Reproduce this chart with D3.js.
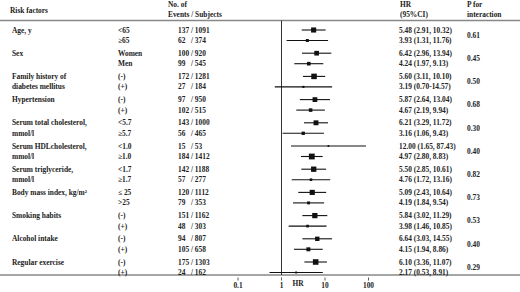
<!DOCTYPE html>
<html><head><meta charset="utf-8">
<script src="https://cdn.jsdelivr.net/npm/d3@7"></script>
<style>
html,body{margin:0;padding:0;background:#fff;}
text{font-family:"Liberation Serif","Times New Roman",serif;font-weight:bold;font-size:7.4px;fill:#222;white-space:pre;}
</style></head><body>
<script>
const factors = [["Age, y"],["Sex"],["Family history of","diabetes mellitus"],["Hypertension"],["Serum total cholesterol,","mmol/l"],["Serum HDLcholesterol,","mmol/l"],["Serum triglyceride,","mmol/l"],["Body mass index, kg/m²"],["Smoking habits"],["Alcohol intake"],["Regular exercise"]];
const subgroups = [["<65","≥65"],["Women","Men"],["(-)","(+)"],["(-)","(+)"],["<5.7","≥5.7"],["<1.0","≥1.0"],["<1.7","≥1.7"],["≤ 25",">25"],["(-)","(+)"],["(-)","(+)"],["(-)","(+)"]];
const events = [[137,62],[100,99],[172,27],[97,102],[143,56],[15,184],[142,57],[120,79],[151,48],[94,105],[175,24]];
const subjects = [[1091,374],[920,545],[1281,184],[950,515],[1000,465],[53,1412],[1188,277],[1112,353],[1162,303],[807,658],[1303,162]];
const hr = [[5.48,3.93],[6.42,4.24],[5.60,3.19],[5.87,4.67],[6.21,3.16],[12.00,4.97],[5.50,4.76],[5.09,4.19],[5.84,3.98],[6.64,4.15],[6.10,2.17]];
const lo = [[2.91,1.31],[2.96,1.97],[3.11,0.70],[2.64,2.19],[3.29,1.06],[1.65,2.80],[2.85,1.72],[2.43,1.84],[3.02,1.46],[3.03,1.94],[3.36,0.53]];
const hi = [[10.32,11.76],[13.94,9.13],[10.10,14.57],[13.04,9.94],[11.72,9.43],[87.43,8.83],[10.61,13.16],[10.64,9.54],[11.29,10.85],[14.55,8.86],[11.07,8.91]];
const ciText = [["5.48 (2.91, 10.32)","3.93 (1.31, 11.76)"],["6.42 (2.96, 13.94)","4.24 (1.97, 9.13)"],["5.60 (3.11, 10.10)","3.19 (0.70-14.57)"],["5.87 (2.64, 13.04)","4.67 (2.19, 9.94)"],["6.21 (3.29, 11.72)","3.16 (1.06, 9.43)"],["12.00 (1.65, 87.43)","4.97 (2.80, 8.83)"],["5.50 (2.85, 10.61)","4.76 (1.72, 13.16)"],["5.09 (2.43, 10.64)","4.19 (1.84, 9.54)"],["5.84 (3.02, 11.29)","3.98 (1.46, 10.85)"],["6.64 (3.03, 14.55)","4.15 (1.94, 8.86)"],["6.10 (3.36, 11.07)","2.17 (0.53, 8.91)"]];
const pValues = ["0.61","0.45","0.50","0.68","0.30","0.40","0.82","0.73","0.53","0.40","0.29"];
const ticks = [0.1,1,10,100];

const W=520,H=292;
const svg=d3.select("body").append("svg").attr("width",W).attr("height",H);
const x=d3.scaleLog().domain([0.1,100]).range([238,368.5]);
const gy=d3.scaleLinear().domain([0,10]).range([30,262]);
const rowGap=10.5;
const size=d3.scaleSqrt().domain([0,1412]).range([0,5.8]);

const hdr=[[10,10,"Risk factors"],[168,4,"No. of"],[168,14.5,"Events / Subjects"],[400,4,"HR"],[400,14.5,"(95%CI)"],[467,4,"P for"],[467,14.5,"interaction"]];
svg.selectAll("text.h").data(hdr).join("text").attr("class","h")
  .attr("x",d=>d[0]).attr("y",d=>d[1]).attr("dy","0.35em").text(d=>d[2]);

svg.append("line").attr("x1",0).attr("x2",W).attr("y1",20.5).attr("y2",20.5).attr("stroke","#888").attr("stroke-width",1.6);
const bottomY=275;
svg.append("line").attr("x1",0).attr("x2",W).attr("y1",bottomY).attr("y2",bottomY).attr("stroke","#888").attr("stroke-width",1.6);
svg.append("line").attr("x1",x(1)).attr("x2",x(1)).attr("y1",20.5).attr("y2",bottomY).attr("stroke","#333").attr("stroke-width",1);

const ax=svg.append("g");
ax.selectAll("line").data(ticks).join("line").attr("x1",d=>x(d)).attr("x2",d=>x(d)).attr("y1",bottomY+2.5).attr("y2",bottomY+5.5).attr("stroke","#333").attr("stroke-width",0.8);
ax.selectAll("text").data(ticks).join("text").attr("x",d=>x(d)).attr("y",bottomY+10).attr("dy","0.35em").attr("text-anchor","middle").text(d=>d3.format("~g")(d));
svg.append("text").attr("x",298).attr("y",bottomY+8.5).attr("dy","0.35em").attr("text-anchor","middle").text("HR");

const groups=svg.selectAll("g.grp").data(factors.map((f,i)=>i)).join("g").attr("class","grp");
groups.each(function(i){
  const g=d3.select(this);
  const y0=gy(i);
  factors[i].forEach((t,k)=>g.append("text").attr("x",12).attr("y",y0+k*rowGap).attr("dy","0.35em").text(t));
  [0,1].forEach(k=>{
    const y=y0+k*rowGap;
    g.append("text").attr("x",118).attr("y",y).attr("dy","0.35em").text(subgroups[i][k]);
    const ev=String(events[i][k]);
    g.append("text").attr("x",178).attr("y",y).attr("dy","0.35em").text(ev.length<3?ev+"   / "+subjects[i][k]:ev+" / "+subjects[i][k]);
    g.append("text").attr("x",399).attr("y",y).attr("dy","0.35em").text(ciText[i][k]);
    g.append("line").attr("x1",x(lo[i][k])).attr("x2",x(hi[i][k])).attr("y1",y).attr("y2",y).attr("stroke","#111").attr("stroke-width",1.1);
    const s=Math.max(1.8,size(subjects[i][k]));
    g.append("rect").attr("x",x(hr[i][k])-s/2).attr("y",y-s/2).attr("width",s).attr("height",s).attr("fill","#111");
  });
  g.append("text").attr("x",467).attr("y",y0+rowGap/2).attr("dy","0.35em").text(pValues[i]);
});
</script></body></html>
